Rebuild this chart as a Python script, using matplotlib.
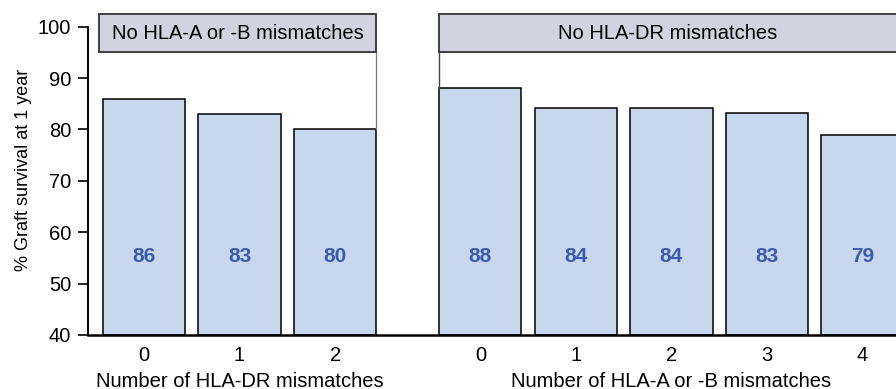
import numpy as np
import matplotlib.pyplot as plt
from matplotlib.patches import Rectangle

plt.rcParams['font.family'] = ['Liberation Sans', 'DejaVu Sans']

# left group: no HLA-A or -B mismatches
dr_counts = ["0", "1", "2"]
dr_survival = [86, 83, 80]
dr_labels = [86, 83, 80]

# right group: no HLA-DR mismatches
ab_counts = ["0", "1", "2", "3", "4"]
ab_survival = [88, 84.2, 84.2, 83.2, 79]
ab_labels = [88, 84, 84, 83, 79]

header_left = "No HLA-A or -B mismatches"
header_right = "No HLA-DR mismatches"
xlabel_left = "Number of HLA-DR mismatches"
xlabel_right = "Number of HLA-A or -B mismatches"
ylabel = "% Graft survival at 1 year"

bar_color = "#c8d6ee"
head_color = "#d3d2e0"
num_color = "#3a5cb0"
width = 0.86
fs = 14.5

fig = plt.figure(figsize=(8.96, 3.89), dpi=100)
ax = fig.add_axes([88 / 896, 1 - 335 / 389, 808 / 896, (335 - 26.7) / 389])

x_left = np.arange(len(dr_counts))
x_right = np.arange(len(ab_counts)) + 3.52

ax.bar(x_left, np.array(dr_survival) - 40, width, bottom=40,
       color=bar_color, edgecolor="black", linewidth=1.1)
ax.bar(x_right, np.array(ab_survival) - 40, width, bottom=40,
       color=bar_color, edgecolor="black", linewidth=1.1)

for x, v in zip(list(x_left) + list(x_right), dr_labels + ab_labels):
    ax.text(x, 55.2, str(v), ha="center", va="center", fontsize=15,
            fontweight="bold", color=num_color)

# header boxes
l0 = -0.47
l1 = x_left[-1] + width / 2
ax.add_patch(Rectangle((l0, 95), l1 - l0, 7.5, facecolor=head_color,
                       edgecolor="#333333", linewidth=1.3, clip_on=False, zorder=3))
ax.text((l0 + l1) / 2, 98.75, header_left, ha="center", va="center", fontsize=fs)
ax.plot([l1, l1], [dr_survival[-1], 95], color="#777777", linewidth=0.9)

r0 = x_right[0] - width / 2
r1 = 8.3
ax.add_patch(Rectangle((r0, 95), r1 - r0, 7.5, facecolor=head_color,
                       edgecolor="#333333", linewidth=1.3, clip_on=False, zorder=3))
ax.text((r0 + 7.87) / 2, 98.75, header_right, ha="center", va="center", fontsize=fs)
ax.plot([r0, r0], [ab_survival[0], 95], color="#444444", linewidth=1.0)

ax.set_xlim(-0.586, 7.87)
ax.set_ylim(40, 100)
ax.set_yticks(range(40, 101, 10))
ax.set_xticks(list(x_left) + list(x_right), dr_counts + ab_counts)
ax.tick_params(axis="x", length=0, pad=8, labelsize=fs)
ax.tick_params(axis="y", length=7, width=1.2, pad=5, labelsize=fs)

for s in ["top", "right"]:
    ax.spines[s].set_visible(False)
ax.spines["left"].set_linewidth(1.4)
ax.spines["bottom"].set_linewidth(1.8)

ax.text(x_left[1], 31.0, xlabel_left, ha="center", va="center", fontsize=fs)
ax.text(x_right[2], 31.0, xlabel_right, ha="center", va="center", fontsize=fs)
fig.text(23 / 896, 1 - 170 / 389, ylabel, rotation=90, ha="center", va="center",
         fontsize=13, family=["Liberation Sans Narrow", "Liberation Sans"])

fig.savefig("out.png", dpi=100)
